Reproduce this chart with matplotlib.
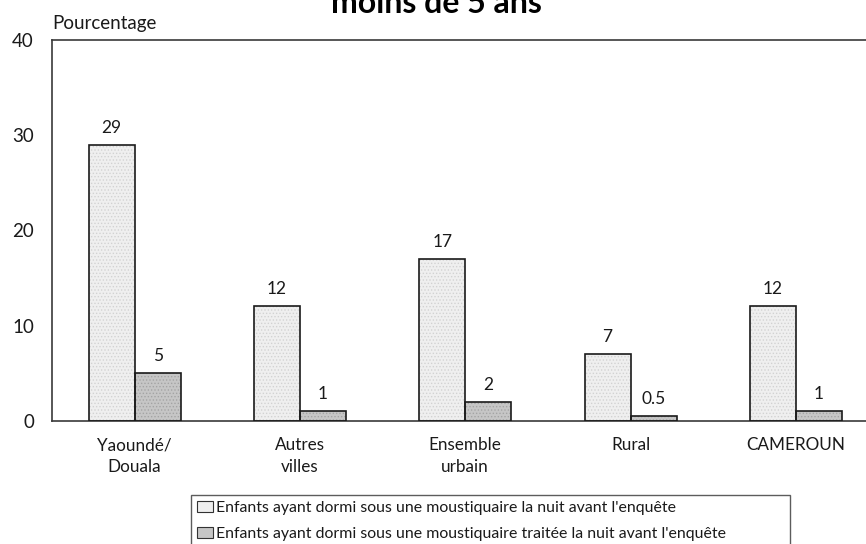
import numpy as np
import matplotlib
matplotlib.use("Agg")
import matplotlib.pyplot as plt
from matplotlib.patches import Patch

plt.rcParams['font.family'] = ['Lato', 'DejaVu Sans']
plt.rcParams['hatch.linewidth'] = 0.6

categories = ["Yaoundé/\nDouala", "Autres\nvilles", "Ensemble\nurbain", "Rural", "CAMEROUN"]
moustiquaire = [29, 12, 17, 7, 12]
moustiquaire_traitee = [5, 1, 2, 0.5, 1]
series_labels = [
    "Enfants ayant dormi sous une moustiquaire la nuit avant l'enquête",
    "Enfants ayant dormi sous une moustiquaire traitée la nuit avant l'enquête",
]
yticks = [0, 10, 20, 30, 40]

W, H = 866, 544
fig = plt.figure(figsize=(W / 100, H / 100), dpi=100)
ax = fig.add_axes([52 / W, (H - 420.7) / H, 826.5 / W, 380.7 / H])

x = np.arange(len(categories))
bw = 0.278
styles = [
    dict(face='#efefef', hatch_col='#d2d2d2'),
    dict(face='#c6c6c6', hatch_col='#a4a4a4'),
]
for vals, offset, st in [(moustiquaire, -bw / 2, styles[0]),
                         (moustiquaire_traitee, bw / 2, styles[1])]:
    # textured fill
    ax.bar(x + offset, vals, width=bw, color=st['face'], edgecolor=st['hatch_col'],
           hatch='.....', linewidth=0, zorder=2)
    # outline
    bars = ax.bar(x + offset, vals, width=bw, fill=False, edgecolor='#1a1a1a',
                  linewidth=1.2, zorder=3)
    for rect, v in zip(bars, vals):
        ax.annotate(f"{v:g}", (rect.get_x() + rect.get_width() / 2, v),
                    xytext=(0, 6.5), textcoords='offset points',
                    ha='center', va='bottom', fontsize=12.5, color='#1a1a1a')

ax.set_xlim(-0.5, 4.5)
ax.set_ylim(0, 40)
ax.set_yticks(yticks)
ax.set_yticklabels([str(t) for t in yticks], fontsize=13.5, color='#1a1a1a')
ax.set_xticks(x)
ax.set_xticklabels(categories, fontsize=12.3, color='#1a1a1a', linespacing=1.4)
ax.tick_params(axis='y', length=0, pad=13)
ax.tick_params(axis='x', length=0, pad=12)

for s in ['left', 'top', 'bottom']:
    ax.spines[s].set_color('#3a3a3a')
    ax.spines[s].set_linewidth(1.2)
ax.spines['right'].set_visible(False)

fig.text(52 / W, 1 - 24 / H, "Pourcentage", fontsize=13.5, ha='left', va='center',
         color='#1a1a1a')
fig.text(436 / W, 1 - 13 / H, "moins de 5 ans", fontsize=23, fontweight='bold',
         ha='center', va='baseline', color='black')

handles = [
    Patch(facecolor=styles[0]['face'], edgecolor='#333333', linewidth=0.8),
    Patch(facecolor=styles[1]['face'], edgecolor='#333333', linewidth=0.8),
]
leg = fig.legend(handles, series_labels, loc='upper left',
                 bbox_to_anchor=(191 / W, 1 - 495 / H, (790 - 191) / W, 0.0),
                 mode='expand', fontsize=11.4, frameon=True, fancybox=False,
                 edgecolor='#333333', borderpad=0.35, handlelength=1.05,
                 handleheight=0.7, handletextpad=0.2, labelspacing=0.75,
                 borderaxespad=0)
leg.get_frame().set_linewidth(1.0)
for t in leg.get_texts():
    t.set_color('#1a1a1a')

fig.savefig("out.png", dpi=100)
